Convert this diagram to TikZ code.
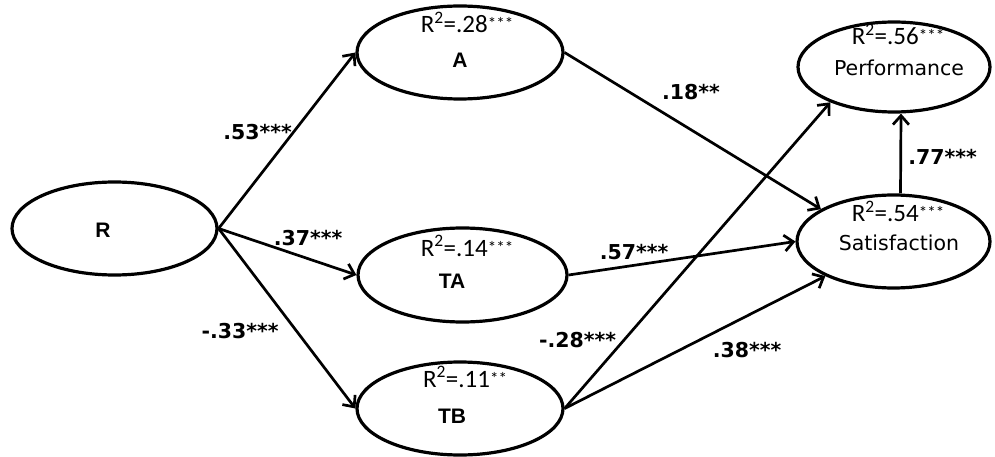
\documentclass[tikz,border=0pt]{standalone}
\usepackage{fontspec}
\usetikzlibrary{arrows.meta,shapes.geometric,calc}
\newfontfamily\rsqfont{Carlito}
\newfontfamily\namefont{Liberation Sans}
\newfontfamily\wordfont{DejaVu Sans}
% significance stars set small and raised after an R-squared value
\newcommand{\rsqstars}[1]{\raisebox{3pt}{\fontsize{17}{17}\selectfont #1}}
\begin{document}
\begin{tikzpicture}[x=1pt,y=-1pt,
  latent/.style={ellipse,draw,line width=3.2pt,inner sep=0pt},
  conn/.style={line width=2.7pt,-{Straight Barb[length=9pt,width=16pt]}},
  rsq/.style={font=\rsqfont\fontsize{25}{25}\selectfont,anchor=base,inner sep=0pt},
  vname/.style={font=\namefont\bfseries\fontsize{21}{21}\selectfont,anchor=base,inner sep=0pt},
  wname/.style={font=\wordfont\fontsize{20.5}{20.5}\selectfont,anchor=base,inner sep=0pt},
  coef/.style={font=\wordfont\bfseries\fontsize{20.5}{20.5}\selectfont,anchor=base,inner sep=0pt}]
\fill[white] (0,0) rectangle (995,457);
\useasboundingbox (0,0) rectangle (995,457);

% latent variables
\node[latent,minimum width=205pt,minimum height=93pt] (R)    at (114.5,228.5) {};
\node[latent,minimum width=206pt,minimum height=93pt] (A)    at (460,52.5) {};
\node[latent,minimum width=209pt,minimum height=94pt] (TA)   at (462.5,275) {};
\node[latent,minimum width=206pt,minimum height=93pt] (TB)   at (460,408.5) {};
\node[latent,minimum width=192pt,minimum height=90pt] (Perf) at (894,67) {};
\node[latent,minimum width=193pt,minimum height=93pt] (Sat)  at (893.5,241.5) {};

% variable names and explained variance
\node[vname] (Rname)  at (103,237) {R};
\node[rsq]   (Arsq)   at (467,33)  {R\textsuperscript{2}=.28\rsqstars{***}};
\node[vname] (Aname)  at (460,68)  {A};
\node[rsq]   (TArsq)  at (467,256) {R\textsuperscript{2}=.14\rsqstars{***}};
\node[vname] (TAname) at (452,288) {TA};
\node[rsq]   (TBrsq)  at (465,387) {R\textsuperscript{2}=.11\rsqstars{**}};
\node[vname] (TBname) at (452,423) {TB};
\node[rsq]   (Prsq)   at (898,45)  {R\textsuperscript{2}=.56\rsqstars{***}};
\node[wname] (Pname)  at (899,76)  {Performance};
\node[rsq]   (Srsq)   at (898,222) {R\textsuperscript{2}=.54\rsqstars{***}};
\node[wname] (Sname)  at (899,250) {Satisfaction};

% structural paths
\draw[conn] (R.east) -- (A.west);
\draw[conn] (R.east) -- (TA.west);
\draw[conn] (R.east) -- (TB.west);
\draw[conn] (A.east) -- (Sat.156);
\draw[conn] (TA.east) -- (Sat.west);
\draw[conn] (TB.east) -- (Perf.209);
\draw[conn] (TB.east) -- (Sat);
\draw[conn] ($(Sat.north)+(7,0)$) -- ($(Perf.south)+(7,0)$);

% path coefficients
\node[coef] (cRA)   at (257.5,140) {.53***};
\node[coef] (cRTA)  at (308,245)   {.37***};
\node[coef] (cRTB)  at (240,338)   {-.33***};
\node[coef] (cAS)   at (691,100)   {.18**};
\node[coef] (cTAS)  at (634,259)   {.57***};
\node[coef] (cTBP)  at (577.5,347) {-.28***};
\node[coef] (cTBS)  at (747,357)   {.38***};
\node[coef] (cSP)   at (942.5,165) {.77***};
\end{tikzpicture}
\end{document}
